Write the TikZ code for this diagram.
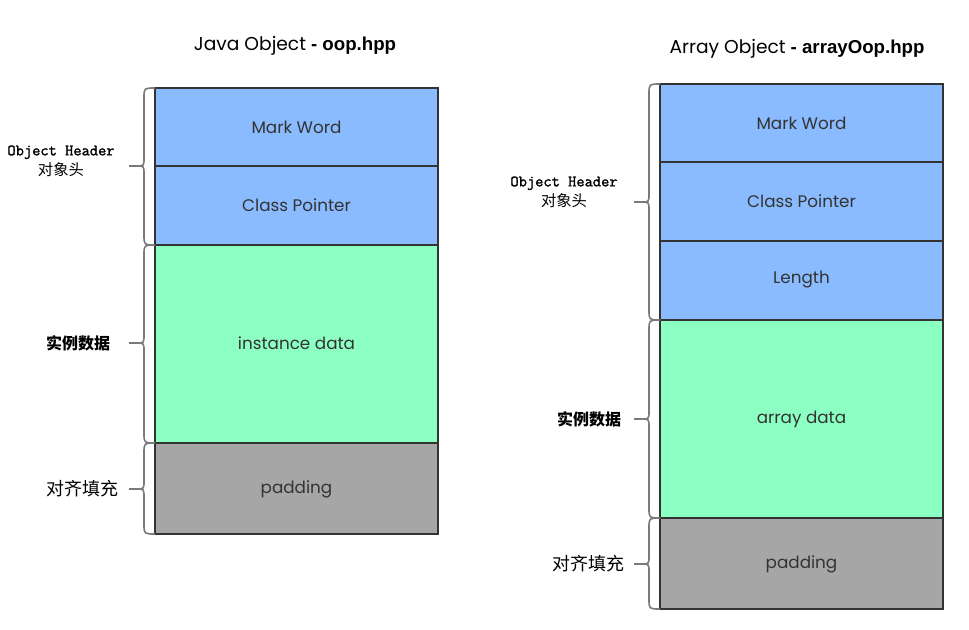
\documentclass[tikz,border=0pt]{standalone}
\usepackage{fontspec}
\setmainfont{Poppins}
\newfontfamily\cjk{Noto Sans CJK SC}
\newfontfamily\ttl{Liberation Sans}
\newfontfamily\hdrmono[FakeBold=1.5]{Latin Modern Mono}
\definecolor{hdr}{HTML}{8ABBFE}
\definecolor{dat}{HTML}{8CFFC2}
\definecolor{pad}{HTML}{A6A6A6}
\definecolor{edge}{HTML}{333333}
\definecolor{brc}{HTML}{7A7A7A}
\definecolor{txt}{HTML}{333333}
\tikzset{
  cell/.style={draw=edge, line width=2.2pt},
  celltext/.style={text=txt, font=\fontsize{12.6}{14}\selectfont},
  title/.style={text=black, font=\fontsize{14}{16}\selectfont},
  bracepath/.style={draw=brc, line width=1.2pt},
  hdrlbl/.style={align=center, font=\hdrmono\fontsize{12}{14}\selectfont, inner sep=0pt},
  cjklbl/.style={font=\cjk\fontsize{12}{14}\selectfont, inner sep=0pt},
}
\newcommand{\mybrace}[4]{% x-line, y1, y2, ym
  \draw[bracepath] (#1+11,#2) .. controls (#1,#2) .. (#1,#2+10) -- (#1,#4-8)
     .. controls (#1,#4) .. (#1-8,#4) -- (#1-15,#4);
  \draw[bracepath] (#1-8,#4) .. controls (#1,#4) .. (#1,#4+8) -- (#1,#3-10)
     .. controls (#1,#3) .. (#1+11,#3);
}
\begin{document}
\begin{tikzpicture}[x=0.75pt,y=-0.75pt]
\useasboundingbox (0,0) rectangle (969,630);
% titles
\node[title] (t1) at (295,46) {Java Object {\ttl\bfseries - oop.hpp}};
\node[title] (t2) at (797,49) {Array Object {\ttl\bfseries - arrayOop.hpp}};
% left boxes
\filldraw[cell, fill=hdr] (155,88) rectangle (438,166);
\filldraw[cell, fill=hdr] (155,166) rectangle (438,245);
\filldraw[cell, fill=dat] (155,245) rectangle (438,443);
\filldraw[cell, fill=pad] (155,443) rectangle (438,534);
\node[celltext] (l1) at (296.5,127) {Mark Word};
\node[celltext] (l2) at (296.5,205) {Class Pointer};
\node[celltext] (l3) at (296.5,343) {instance data};
\node[celltext] (l4) at (296.5,489) {padding};
% right boxes
\filldraw[cell, fill=hdr] (660,84) rectangle (943,162);
\filldraw[cell, fill=hdr] (660,162) rectangle (943,241);
\filldraw[cell, fill=hdr] (660,241) rectangle (943,320);
\filldraw[cell, fill=dat] (660,320) rectangle (943,518);
\filldraw[cell, fill=pad] (660,518) rectangle (943,609);
\node[celltext] (r1) at (801.5,123) {Mark Word};
\node[celltext] (r2) at (801.5,201) {Class Pointer};
\node[celltext] (r3) at (801.5,280) {Length};
\node[celltext] (r4) at (801.5,419) {array data};
\node[celltext] (r5) at (801.5,564) {padding};
% braces left
\mybrace{144}{88}{245}{166}
\mybrace{144}{245}{443}{343}
\mybrace{144}{443}{534}{489}
% braces right
\mybrace{649}{84}{320}{202}
\mybrace{649}{320}{518}{419}
\mybrace{649}{518}{609}{564}
% labels left
\node[hdrlbl] (lh) at (61,161) {Object Header\\[1pt]{\cjk\fontsize{11.5}{13}\selectfont 对象头}};
\node[cjklbl, font=\cjk\bfseries\fontsize{12}{14}\selectfont] (ld) at (78,343) {实例数据};
\node[cjklbl, font=\cjk\fontsize{13.5}{15}\selectfont] (lp) at (82,489) {对齐填充};
% labels right
\node[hdrlbl] (rh) at (564,192) {Object Header\\[1pt]{\cjk\fontsize{11.5}{13}\selectfont 对象头}};
\node[cjklbl, font=\cjk\bfseries\fontsize{12}{14}\selectfont] (rd) at (589,419) {实例数据};
\node[cjklbl, font=\cjk\fontsize{13.5}{15}\selectfont] (rp) at (588,564) {对齐填充};
\end{tikzpicture}
\end{document}
